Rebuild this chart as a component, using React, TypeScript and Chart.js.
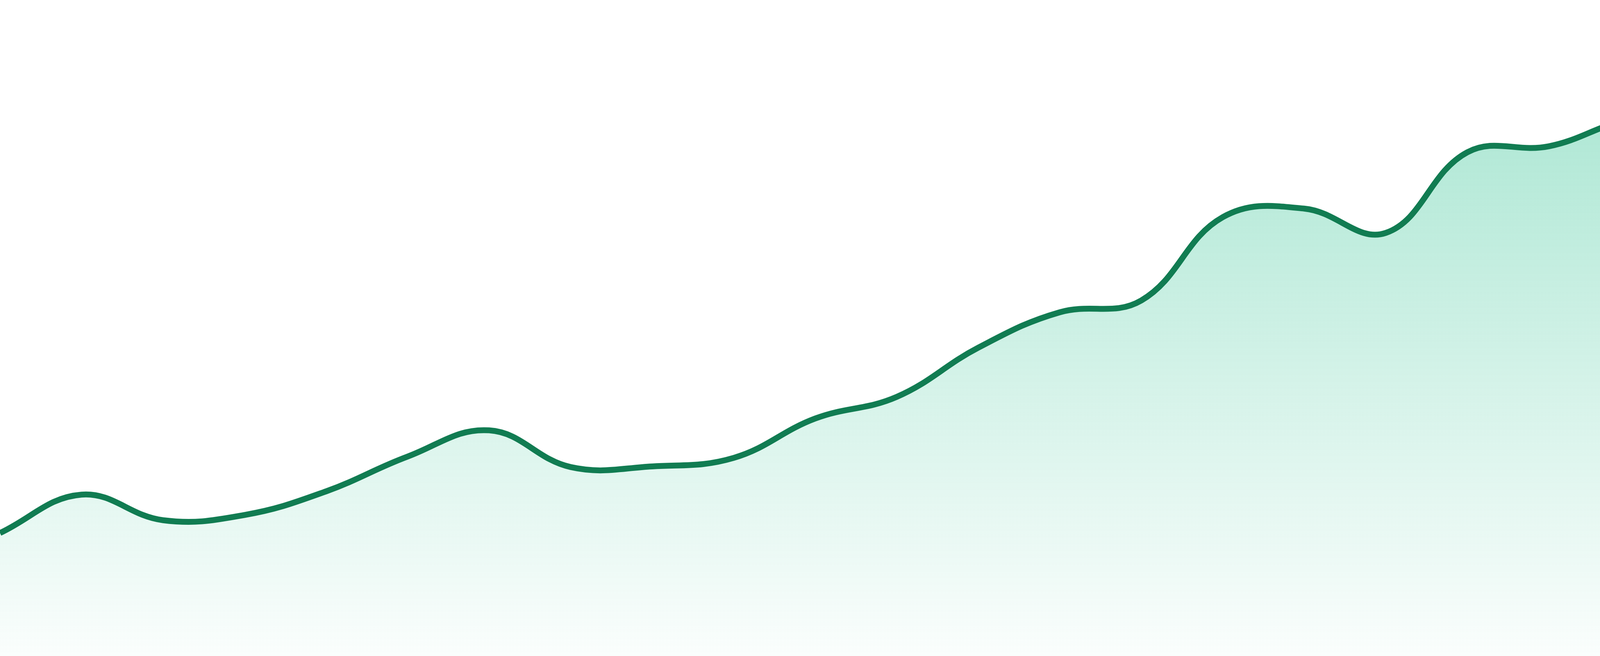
import { useEffect, useRef } from "react"
import { Chart, registerables } from "chart.js"

Chart.register(...registerables)

// 24 evenly spaced samples (0–100 scale)
const labels = [
  "1", "2", "3", "4", "5", "6", "7", "8", "9", "10", "11", "12",
  "13", "14", "15", "16", "17", "18", "19", "20", "21", "22", "23", "24",
]
const values = [
  18.75, 24.6, 20.7, 21.5, 25.1, 30.4, 34.4, 28.8, 28.9, 30.2, 36.2, 39.5,
  47.0, 52.4, 54.2, 66.9, 68.2, 64.5, 76.8, 77.7, 81.8, 82.3, 85.0, 87.9,
]
const yMin = 0
const yMax = 100

const WIDTH = 4800
const HEIGHT = 1680

function AreaChart() {
  const chartRef = useRef<HTMLCanvasElement>(null)
  const chartInstance = useRef<Chart | null>(null)

  useEffect(() => {
    const canvas = chartRef.current
    if (!canvas) return

    const ctx = canvas.getContext("2d")
    if (!ctx) return

    if (chartInstance.current) {
      chartInstance.current.destroy()
    }

    chartInstance.current = new Chart(ctx, {
      type: "line",
      data: {
        labels,
        datasets: [
          {
            data: values,
            borderColor: "#117c52",
            borderWidth: 15,
            tension: 0.4,
            pointRadius: 0,
            fill: "start",
            backgroundColor: (c: any) => {
              const area = c.chart.chartArea
              if (!area) return "rgba(16,185,129,0.2)"
              const g = c.chart.ctx.createLinearGradient(0, area.top, 0, area.bottom)
              g.addColorStop(0, "rgba(16,185,129,0.4)")
              g.addColorStop(1, "rgba(16,185,129,0.02)")
              return g
            },
          },
        ],
      },
      options: {
        responsive: false,
        animation: false,
        layout: { padding: 0 },
        plugins: {
          legend: { display: false },
          tooltip: { enabled: false },
        },
        scales: {
          x: { display: false, offset: false },
          y: { display: false, min: yMin, max: yMax },
        },
      },
    })

    return () => {
      if (chartInstance.current) {
        chartInstance.current.destroy()
        chartInstance.current = null
      }
    }
  }, [])

  return (
    <div style={{ position: "fixed", left: 0, top: 0, width: WIDTH, height: HEIGHT, background: "#fff" }}>
      <canvas ref={chartRef} width={WIDTH} height={HEIGHT} style={{ width: WIDTH, height: HEIGHT }} />
    </div>
  )
}

export default function App() {
  return <AreaChart />
}
